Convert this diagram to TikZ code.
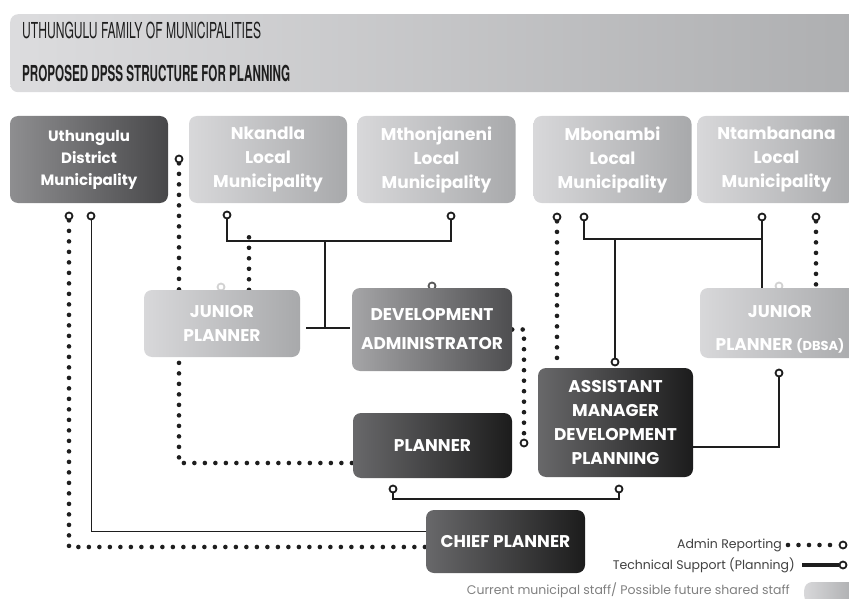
\documentclass[tikz,border=0pt]{standalone}
\usepackage{fontspec}
\setmainfont{Poppins}
\newfontfamily\headfont[FakeStretch=0.55]{TeX Gyre Heros}
\newfontfamily\headboldfont[FakeStretch=0.53]{TeX Gyre Heros}
\usetikzlibrary{positioning,backgrounds}

\definecolor{lightL}{RGB}{216,216,218}
\definecolor{lightR}{RGB}{168,169,171}
\definecolor{districtL}{RGB}{142,142,144}
\definecolor{districtR}{RGB}{72,72,74}
\definecolor{adminL}{RGB}{165,165,167}
\definecolor{adminR}{RGB}{78,78,80}
\definecolor{darkL}{RGB}{104,104,106}
\definecolor{darkR}{RGB}{28,28,28}
\definecolor{bannerL}{RGB}{220,220,222}
\definecolor{bannerR}{RGB}{172,173,175}
\definecolor{inkgray}{RGB}{30,30,30}

\begin{document}
\begin{tikzpicture}
			[
				x=1pt, y=-1pt,
				box/.style={rounded corners=8pt, align=center, inner sep=0pt, text=white,
					font=\bfseries\fontsize{17}{24}\selectfont},
				muni/.style={box, font=\bfseries\fontsize{15}{22}\selectfont,
					minimum width=158pt, minimum height=87pt},
				lightbox/.style={box, left color=lightL, right color=lightR},
				darkbox/.style={box, left color=darkL, right color=darkR},
				port/.style={circle, draw=inkgray, line width=1.8pt, fill=white,
					minimum size=7pt, inner sep=0pt},
				faintport/.style={port, draw=#1},
				tech/.style={draw=inkgray, line width=2.2pt},
				admin/.style={draw=inkgray, line width=4.6pt, line cap=round, dash pattern=on 0pt off 10.5pt},
				legend/.style={inner sep=0pt, text=black!75, font=\fontsize{12.5}{14}\selectfont}
			]

			\useasboundingbox (0,0) rectangle (849,599);

			% heading
			\node[rounded corners=8pt, left color=bannerL, right color=bannerR,
				minimum width=880pt, minimum height=78pt, anchor=north west] (banner) at (10,14) {};
			\node[anchor=west, inner sep=0pt, text=inkgray, font=\headfont\fontsize{22}{24}\selectfont]
				(famtitle) at (22,30) {UTHUNGULU FAMILY OF MUNICIPALITIES};
			\node[anchor=west, inner sep=0pt, text=inkgray, font=\headboldfont\bfseries\fontsize{22}{24}\selectfont]
				(dpsstitle) at (22,73) {PROPOSED DPSS STRUCTURE FOR PLANNING};

			% municipalities
			\node[muni, left color=districtL, right color=districtR] (udm) at (89,159.5) {Uthungulu\\District\\Municipality};
			\node[muni, lightbox] (nkandla) at (268,159.5) {Nkandla\\Local\\Municipality};
			\node[muni, lightbox] (mthon) at (436.5,159.5) {Mthonjaneni\\Local\\Municipality};
			\node[muni, lightbox] (mbon) at (612.5,159.5) {Mbonambi\\Local\\Municipality};
			\node[muni, lightbox] (ntamb) at (776.5,159.5) {Ntambanana\\Local\\Municipality};

			% staff
			\node[lightbox, minimum width=156pt, minimum height=67pt] (jp) at (222,323.5) {JUNIOR\\PLANNER};
			\node[box, left color=adminL, right color=adminR, minimum width=160pt, minimum height=83pt]
				(devadmin) at (432,329.5) {DEVELOPMENT\\[5pt]ADMINISTRATOR};
			\node[darkbox, minimum width=159pt, minimum height=65pt] (planner) at (432.5,445.5) {PLANNER};
			\node[darkbox, minimum width=155pt, minimum height=109pt] (amdp) at (615.5,422.5)
				{ASSISTANT\\MANAGER\\DEVELOPMENT\\PLANNING};
			\node[lightbox, minimum width=160pt, minimum height=70pt] (jpdbsa) at (780,323)
				{\rule{0pt}{24pt}JUNIOR\\[9pt]PLANNER {\fontsize{13}{24}\selectfont(DBSA)}};
			\node[darkbox, minimum width=159pt, minimum height=63pt] (chief) at (505.5,541.5) {CHIEF PLANNER};

			% ports
			\node[port] (udmA) at (69,216) {};
			\node[port] (udmB) at (91,216) {};
			\node[port] (nkA) at (179,159) {};
			\node[port] (nkB) at (227,215) {};
			\node[port] (mtB) at (451,216) {};
			\node[port] (mbA) at (557,217) {};
			\node[port] (mbB) at (584,217) {};
			\node[port] (ntA) at (762,217) {};
			\node[port] (ntB) at (816,217) {};
			\node[port] (amA) at (615,362) {};
			\node[port] (daport) at (524,443) {};
			\node[port] (pp) at (393,489) {};
			\node[port] (ap) at (619,489) {};
			\node[port] (dbA) at (779,373) {};

			\coordinate (tee) at (325,328);

			\begin{scope}[on background layer]
				% half hidden ports
				\node[faintport=gray!35] (jptop) at (221,287) {};
				\node[faintport=black!65] (datop) at (432,286) {};
				\node[faintport=gray!35] (dbtop) at (779,286) {};

				% admin reporting
				\draw[admin] (udmA) |- ([yshift=-5.5pt]chief.west);
				\draw[admin] (nkA) |- ([yshift=-17.5pt]planner.west);
				\draw[admin] ([xshift=27pt]jp.north) -- +(0,-62);
				\draw[admin] (devadmin.east) -| (daport);
				\draw[admin] (mbA) -- (mbA |- amdp.north);
				\draw[admin] (ntB) -- (ntB |- jpdbsa.north);

				% technical support
				\draw[tech, line width=1pt] (udmB) |- ([yshift=10.5pt]chief.west);
				\draw[tech] (nkB) -- ++(0,26) coordinate (nkbus) -| (mtB);
				\draw[tech] (nkbus -| tee) -- (tee);
				\draw[tech] ([xshift=-19pt]tee) -- ([xshift=25pt]tee);
				\draw[tech] (mbB) -- ++(0,22) coordinate (mbbus) -| (ntA);
				\draw[tech] (ntA) -- (ntA |- jpdbsa.north);
				\draw[tech] (amA) -- (amA |- mbbus);
				\draw[tech] (pp) -- ++(0,10) -| (ap);
				\draw[tech] (dbA) |- ([yshift=-24.5pt]amdp.east);
			\end{scope}

			% legend
			\node[legend, anchor=east] (admtxt) at (782,545) {Admin Reporting};
			\node[port] (admport) at (843,545) {};
			\draw[admin] ([xshift=6pt]admtxt.east) -- (admport);
			\node[legend, anchor=east] (techtxt) at (795,565) {Technical Support (Planning)};
			\node[port] (techport) at (843,565) {};
			\draw[tech, line width=4pt] ([xshift=7pt]techtxt.east) -- (techport);
			\node[legend, anchor=east, text=gray] (stafftxt) at (790,590) {Current municipal staff/ Possible future shared staff};
			\node[lightbox, minimum width=56pt, minimum height=22pt, anchor=west] (staffkey) at (804,593) {};

		\end{tikzpicture}
\end{document}
